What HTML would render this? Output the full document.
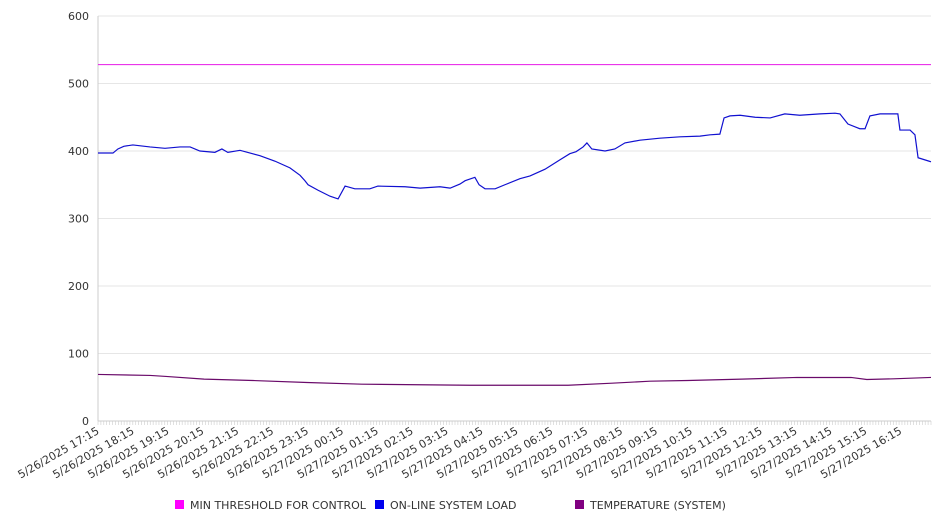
<!DOCTYPE html>
<html><head><meta charset="utf-8">
<style>
html,body{margin:0;padding:0;background:#fff;}
svg{display:block;font-family:"DejaVu Sans","Liberation Sans",sans-serif;}
</style></head>
<body>
<svg id="chart" width="946" height="526" xmlns="http://www.w3.org/2000/svg"></svg>
<script>
const yTicks = [0,100,200,300,400,500,600];
const xTickLabels = ["5/26/2025 17:15","5/26/2025 18:15","5/26/2025 19:15","5/26/2025 20:15","5/26/2025 21:15","5/26/2025 22:15","5/26/2025 23:15","5/27/2025 00:15","5/27/2025 01:15","5/27/2025 02:15","5/27/2025 03:15","5/27/2025 04:15","5/27/2025 05:15","5/27/2025 06:15","5/27/2025 07:15","5/27/2025 08:15","5/27/2025 09:15","5/27/2025 10:15","5/27/2025 11:15","5/27/2025 12:15","5/27/2025 13:15","5/27/2025 14:15","5/27/2025 15:15","5/27/2025 16:15"];
const thresholdValue = 528;
const loadHours = [0,0.43,0.57,0.74,1.0,1.49,1.92,2.35,2.64,2.92,3.35,3.55,3.72,4.07,4.36,4.64,5.07,5.5,5.79,5.93,6.02,6.3,6.65,6.88,7.08,7.36,7.79,8.02,8.8,9.23,9.8,10.09,10.37,10.52,10.8,10.92,11.09,11.38,11.66,12.09,12.38,12.81,13.24,13.52,13.7,13.9,14.01,14.15,14.53,14.81,15.1,15.53,16.1,16.68,17.25,17.54,17.82,17.94,18.11,18.4,18.83,19.26,19.68,20.11,20.69,21.12,21.26,21.49,21.83,21.98,22.12,22.41,22.92,22.98,23.27,23.41,23.5,23.81,23.87];
const loadValues = [397,397,403,407,409,406,404,406,406,400,398,403,398,401,397,393,385,375,364,356,350,342,333,329,348,344,344,348,347,345,347,345,351,356,361,350,344,344,350,359,363,373,387,396,399,406,412,403,400,403,412,416,419,421,422,424,425,449,452,453,450,449,455,453,455,456,455,440,433,433,452,455,455,431,431,424,390,385,384];
const tempHours = [0,1.5,1.95,3.04,4.44,5.99,7.56,10.66,13.47,14.73,15.82,16.9,18.45,20.03,21.58,22.03,22.8,23.87];
const tempValues = [69,67.5,66,62,60,57,54.5,53,53,56,59,60,62,64.5,64.5,61.5,62.5,64.5];

const NS="http://www.w3.org/2000/svg";
const svg=document.getElementById('chart');
const L=98,R=931,T=16,B=421,X0=0,X1=23.87;
const xs=h=>L+(h-X0)/(X1-X0)*(R-L);
const ys=v=>B-v/600*(B-T);
function mk(tag,attrs){const e=document.createElementNS(NS,tag);for(const k in attrs)e.setAttribute(k,attrs[k]);svg.appendChild(e);return e;}

yTicks.forEach(v=>{
  const g=mk('line',{x1:L,x2:R,y1:ys(v),y2:ys(v),stroke:v===0?'#ccc':'#e6e6e6','stroke-width':1});
  
  
  const t=mk('text',{x:89,y:ys(v)+4,'text-anchor':'end','font-size':11,fill:'#333'});
  t.textContent=v;
  
  
});
const ax=mk('line',{x1:L,x2:L,y1:T,y2:B,stroke:'#ccc'});


for(let i=0;i<=287;i++){
  const x=L+i*(R-L)/287;
  const tk=mk('line',{x1:x,x2:x,y1:B,y2:B+4,stroke:'#ccc','stroke-width':0.6});
  
  
}
xTickLabels.forEach((s,i)=>{
  const x=xs(i);
  const t=mk('text',{x:x+2,y:B+12,'text-anchor':'end','font-size':11,fill:'#333',transform:`rotate(-30 ${x+2} ${B+12})`});
  t.textContent=s;
  
  
});
const th=mk('line',{x1:L,x2:R,y1:ys(thresholdValue),y2:ys(thresholdValue),stroke:'#e619e6','stroke-width':1});


const lp=mk('polyline',{points:loadHours.map((h,i)=>xs(h)+','+ys(loadValues[i])).join(' '),fill:'none',stroke:'#1010d0','stroke-width':1.2});


const tp=mk('polyline',{points:tempHours.map((h,i)=>xs(h)+','+ys(tempValues[i])).join(' '),fill:'none',stroke:'#6a0a6a','stroke-width':1.2});



const legend=[["MIN THRESHOLD FOR CONTROL","#ff00ff",175],["ON-LINE SYSTEM LOAD","#0000ee",375],["TEMPERATURE (SYSTEM)","#800080",575]];
legend.forEach(([n,c,x])=>{
  const r=mk('rect',{x:x,y:500,width:9,height:9,fill:c});
  
  
  const t=mk('text',{x:x+15,y:509,'font-size':11,fill:'#333'});
  t.textContent=n;
  
  
});
</script>
</body></html>
